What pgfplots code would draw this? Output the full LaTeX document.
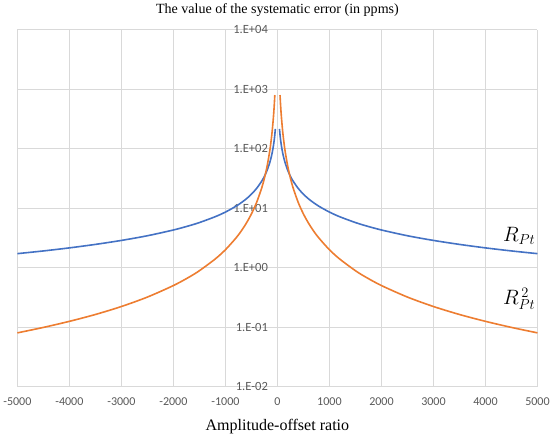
\documentclass[border=0pt]{standalone}
\usepackage{pgfplots}
\pgfplotsset{compat=1.18}
\usepackage{fontspec}
\setmainfont{Liberation Serif}
\newfontfamily\calibri{Carlito}
\definecolor{xlblue}{HTML}{4472C4}
\definecolor{xlorange}{HTML}{ED7D31}
\definecolor{gridgray}{HTML}{D9D9D9}
\definecolor{ticktext}{HTML}{595959}

\begin{document}
\begin{tikzpicture}
\begin{axis}[
  scale only axis,
  width=519pt, height=356pt,
  ymode=log,
  xmin=-5000, xmax=5000,
  ymin=0.01, ymax=10000,
  axis x line=bottom,
  axis y line=middle,
  axis line style={draw=gridgray, -},
  hide obscured x ticks=false,
  hide obscured y ticks=false,
  major tick length=0pt,
  minor tick length=0pt,
  yminorticks=false,
  grid=major,
  major grid style={draw=gridgray, line width=0.8pt},
  xtick={-5000,-4000,-3000,-2000,-1000,0,1000,2000,3000,4000,5000},
  xticklabels={-5000,-4000,-3000,-2000,-1000,0,1000,2000,3000,4000,5000},
  ytick={0.01,0.1,1,10,100,1000,10000},
  yticklabels={1.E-02,1.E-01,1.E+00,1.E+01,1.E+02,1.E+03,1.E+04},
  xticklabel style={font=\calibri\fontsize{12}{14}\selectfont, text=ticktext, yshift=-8pt},
  yticklabel style={font=\calibri\fontsize{12.5}{14}\selectfont, text=ticktext, xshift=-6pt},
  title={The value of the systematic error (in ppms)},
  title style={font=\fontsize{14}{16}\selectfont, yshift=4pt},
  xlabel={Amplitude-offset ratio},
  xlabel style={font=\fontsize{16}{18}\selectfont, yshift=-6pt},
  clip=false,
]
% R_Pt, left and right branches
\addplot[xlblue, line width=1.6pt, smooth, tension=0.5] coordinates {
  (-5000,1.72) (-4500,1.91) (-4000,2.15) (-3500,2.46) (-3000,2.87)
  (-2500,3.44) (-2000,4.3) (-1700,5.06) (-1500,5.73) (-1200,7.17)
  (-1000,8.6) (-800,10.75) (-700,12.3) (-600,14.3) (-500,17.2)
  (-400,21.5) (-300,28.7) (-250,34.4) (-200,43) (-150,57.3)
  (-125,68.8) (-100,86) (-75,115) (-60,143) (-50,172) (-40,215)
};
\addplot[xlblue, line width=1.6pt, smooth, tension=0.5] coordinates {
  (40,215) (50,172) (60,143) (75,115) (100,86) (125,68.8) (150,57.3)
  (200,43) (250,34.4) (300,28.7) (400,21.5) (500,17.2) (600,14.3)
  (700,12.3) (800,10.75) (1000,8.6) (1200,7.17) (1500,5.73) (1700,5.06)
  (2000,4.3) (2500,3.44) (3000,2.87) (3500,2.46)
  (4000,2.15) (4500,1.91) (5000,1.72)
};
% R_Pt^2, left and right branches
\addplot[xlorange, line width=1.6pt, smooth, tension=0.5] coordinates {
  (-5000,0.08) (-4500,0.0988) (-4000,0.125) (-3500,0.163) (-3000,0.222)
  (-2500,0.32) (-2000,0.5) (-1700,0.692) (-1500,0.889) (-1200,1.39)
  (-1000,2) (-800,3.13) (-700,4.08) (-600,5.56) (-500,8)
  (-400,12.5) (-300,22.2) (-250,32) (-200,50) (-150,88.9)
  (-125,128) (-100,200) (-75,356) (-60,556) (-50,800)
};
\addplot[xlorange, line width=1.6pt, smooth, tension=0.5] coordinates {
  (50,800) (60,556) (75,356) (100,200) (125,128) (150,88.9) (200,50)
  (250,32) (300,22.2) (400,12.5) (500,8) (600,5.56) (700,4.08)
  (800,3.13) (1000,2) (1200,1.39) (1500,0.889) (1700,0.692)
  (2000,0.5) (2500,0.32) (3000,0.222) (3500,0.163)
  (4000,0.125) (4500,0.0988) (5000,0.08)
};
\node[font=\fontsize{20}{22}\selectfont] at (axis cs:4650,3.4) {$R_{Pt}$};
\node[font=\fontsize{20}{22}\selectfont] at (axis cs:4650,0.3) {$R_{Pt}^{\,2}$};
\end{axis}
\end{tikzpicture}
\end{document}
